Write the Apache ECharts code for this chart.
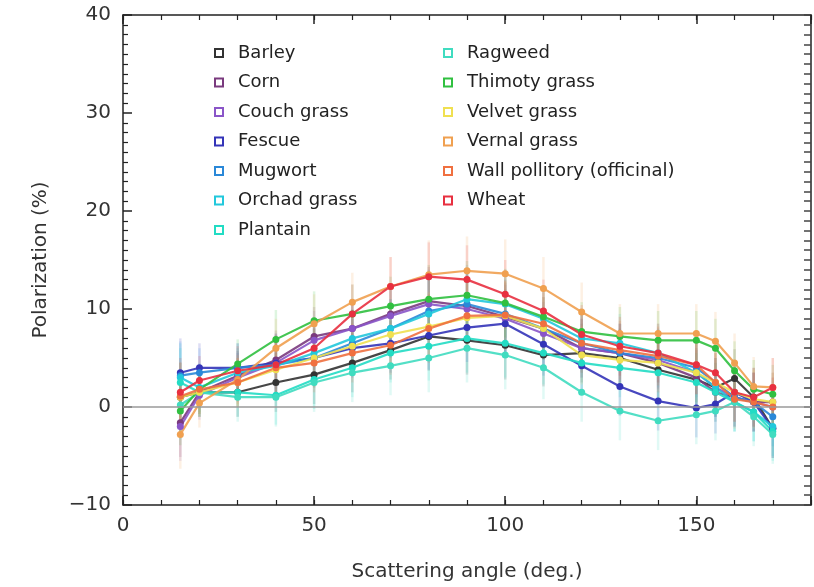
<!DOCTYPE html>
<html><head><meta charset="utf-8">
<script src="https://cdn.jsdelivr.net/npm/echarts@6/dist/echarts.min.js"></script>
<style>html,body{margin:0;padding:0;background:#fff}#c{width:814px;height:587px}</style>
</head><body><div id="c"></div>
<script>
const angles = [15,20,30,40,50,60,70,80,90,100,110,120,130,140,150,155,160,165,170];
const errors = [3.5,2.5,2.5,3,3,3,3,3.5,3.5,3.5,3.2,3,3,3,3,3,3,3,3];
const names = ['Barley','Corn','Couch grass','Fescue','Mugwort','Orchad grass','Plantain','Ragweed','Thimoty grass','Velvet grass','Vernal grass','Wall pollitory (officinal)','Wheat'];
const barley   = [1.0,1.5,1.5,2.5,3.3,4.5,5.8,7.2,6.8,6.3,5.3,5.5,5.0,3.8,2.8,2.0,2.9,1.0,-2.2];
const corn     = [-1.6,1.5,3.2,4.8,7.2,8.0,9.5,10.8,10.3,9.2,8.0,6.0,5.5,4.5,3.0,1.5,1.0,0.5,0.5];
const couch    = [-2.0,1.2,3.0,4.5,6.8,8.0,9.3,10.5,10.0,9.0,7.5,6.0,5.5,4.8,3.5,2.0,1.0,0.5,0.0];
const fescue   = [3.5,4.0,4.0,4.5,5.0,6.0,6.5,7.3,8.1,8.5,6.4,4.2,2.1,0.6,-0.1,0.3,1.5,0.5,-2.2];
const mugwort  = [3.2,3.5,4.0,4.3,5.0,6.5,8.0,9.8,10.5,9.5,8.0,6.5,5.5,5.0,4.0,2.5,1.0,0.5,-1.0];
const orchad   = [3.0,2.0,3.5,4.2,5.5,7.0,8.0,9.5,11.0,10.5,9.0,7.0,6.5,5.5,3.5,2.0,0.5,-0.5,-2.0];
const plantain = [2.5,1.5,1.5,1.2,2.8,4.0,5.5,6.2,7.0,6.5,5.5,4.5,4.0,3.5,2.5,1.5,0.5,-0.5,-2.5];
const ragweed  = [0.2,1.5,1.0,1.0,2.5,3.5,4.2,5.0,6.0,5.3,4.0,1.5,-0.4,-1.4,-0.8,-0.4,0.5,-1.0,-2.8];
const thimoty  = [-0.4,1.8,4.4,6.9,8.8,9.5,10.3,11.0,11.4,10.6,9.2,7.7,7.2,6.8,6.8,6.0,3.7,1.8,1.3];
const velvet   = [1.0,1.5,2.5,3.8,5.0,6.2,7.4,8.2,9.1,9.3,8.0,5.3,4.8,4.5,3.5,2.5,1.5,0.8,0.5];
const vernal   = [-2.8,0.4,2.8,6.0,8.5,10.7,12.3,13.5,13.9,13.6,12.1,9.7,7.5,7.5,7.5,6.7,4.5,2.1,2.0];
const wall     = [1.1,1.8,2.5,4.0,4.5,5.5,6.3,8.0,9.3,9.4,8.5,6.5,5.8,5.2,4.3,2.5,0.8,0.5,0.0];
const wheat    = [1.5,2.7,3.7,4.3,6.0,9.5,12.3,13.3,13.0,11.5,9.8,7.4,6.2,5.5,4.3,3.5,1.5,1.0,2.0];
const values = [barley,corn,couch,fescue,mugwort,orchad,plantain,ragweed,thimoty,velvet,vernal,wall,wheat];
const colors = ['#333333','#7a3a7e','#8a55c8','#3434b8','#2a88d8','#22c8dc','#22dcc4','#40dcc0','#30c040','#f0e050','#f0a050','#f07040','#e83040'];
const yTicks = [-10,0,10,20,30,40];
const xTicks = [0,50,100,150];

const FONT = 'DejaVu Sans';
const series = [];
values.forEach((vals, i) => {
  series.push({
    type: 'custom', name: names[i] + ' error', xAxisIndex: 0, yAxisIndex: 0, z: 1, silent: true,
    itemStyle: {color: colors[i]},
    data: angles.map((a, j) => [a, vals[j] - errors[j], vals[j] + errors[j]]),
    renderItem: function (params, api) {
      const p1 = api.coord([api.value(0), api.value(1)]);
      const p2 = api.coord([api.value(0), api.value(2)]);
      return { type: 'line', shape: {x1: p1[0], y1: p1[1], x2: p2[0], y2: p2[1]},
        style: {stroke: colors[i], lineWidth: 2.5, opacity: 0.16} };
    }
  });
});
values.forEach((vals, i) => {
  series.push({
    type: 'line', name: names[i], xAxisIndex: 0, yAxisIndex: 0, z: 3,
    data: angles.map((a, j) => [a, vals[j]]),
    symbol: 'circle', symbolSize: 7, showSymbol: true,
    lineStyle: {color: colors[i], width: 2.2, opacity: 0.9},
    itemStyle: {color: colors[i]},
    emphasis: {disabled: true}
  });
});
series.push({
  type: 'line', xAxisIndex: 0, yAxisIndex: 0, z: 2, data: [], silent: true,
  markLine: {symbol: 'none', silent: true, label: {show: false},
    lineStyle: {color: '#9a9a9a', width: 1.5, type: 'solid'}, data: [{yAxis: 0}]}
});

const legendIcon = 'path://M0,0H10V10H0Z M2,2V8H8V2Z';
const legendBase = {
  orient: 'vertical', itemWidth: 10, itemHeight: 10, itemGap: 11.5, icon: legendIcon,
  textStyle: {fontFamily: FONT, fontSize: 18, color: '#222', lineHeight: 18, padding: [0,0,0,9]},
  selectedMode: false
};
const noZero = {show: true, onZero: false, lineStyle: {color: '#222', width: 1.5}};
const option = {
  animation: false,
  grid: {left: 123, top: 15, width: 697, height: 493},
  legend: [
    Object.assign({}, legendBase, {left: 209, top: 39, data: names.slice(0, 7)}),
    Object.assign({}, legendBase, {left: 438, top: 39, data: names.slice(7)})
  ],
  xAxis: [
    {type: 'value', position: 'bottom', min: 0, max: 180, interval: 50,
     name: 'Scattering angle (deg.)', nameLocation: 'middle', nameGap: 57,
     nameTextStyle: {fontFamily: FONT, fontSize: 20, color: '#333'},
     axisLine: noZero,
     axisTick: {show: true, inside: true, length: 9, lineStyle: {color: '#222', width: 1.5}},
     axisLabel: {fontFamily: FONT, fontSize: 20, color: '#333', margin: 11,
       formatter: v => xTicks.indexOf(v) >= 0 ? String(v) : ''},
     splitLine: {show: false}},
    {type: 'value', position: 'bottom', min: 0, max: 180, interval: 10,
     axisLine: {show: false, onZero: false}, axisLabel: {show: false}, splitLine: {show: false},
     axisTick: {show: true, inside: true, length: 5, lineStyle: {color: '#222', width: 1.2}}},
    {type: 'value', position: 'top', min: 0, max: 180, interval: 50,
     axisLine: noZero, axisLabel: {show: false}, splitLine: {show: false},
     axisTick: {show: true, inside: true, length: 9, lineStyle: {color: '#222', width: 1.5}}},
    {type: 'value', position: 'top', min: 0, max: 180, interval: 10,
     axisLine: {show: false, onZero: false}, axisLabel: {show: false}, splitLine: {show: false},
     axisTick: {show: true, inside: true, length: 5, lineStyle: {color: '#222', width: 1.2}}}
  ],
  yAxis: [
    {type: 'value', position: 'left', min: -10, max: 40, interval: 10,
     name: 'Polarization (%)', nameLocation: 'middle', nameGap: 72,
     nameTextStyle: {fontFamily: FONT, fontSize: 20, color: '#333'},
     axisLine: noZero,
     axisTick: {show: true, inside: true, length: 9, lineStyle: {color: '#222', width: 1.5}},
     minorTick: {show: true, splitNumber: 10, length: 5, lineStyle: {color: '#222', width: 1.2}},
     axisLabel: {fontFamily: FONT, fontSize: 20, color: '#333', margin: 12,
       formatter: v => yTicks.indexOf(v) >= 0 ? (v < 0 ? '\u2212' + Math.abs(v) : String(v)) : ''},
     splitLine: {show: false}},
    {type: 'value', position: 'right', min: -10, max: 40, interval: 10,
     axisLine: noZero,
     axisTick: {show: true, inside: true, length: 7, lineStyle: {color: '#444', width: 1.5}},
     minorTick: {show: true, splitNumber: 10, length: 7, lineStyle: {color: '#444', width: 1.5}},
     axisLabel: {show: false}, splitLine: {show: false}}
  ],
  series: series
};
const chart = echarts.init(document.getElementById('c'), null, {renderer: 'canvas'});
chart.setOption(option);
</script></body></html>
